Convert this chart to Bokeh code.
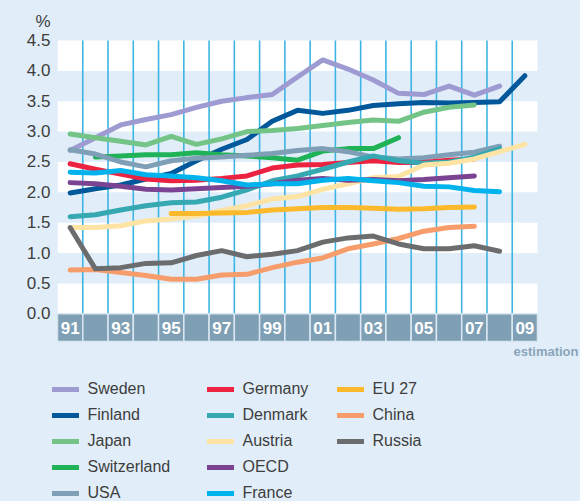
from bokeh.plotting import figure
from bokeh.layouts import column
from bokeh.models import Range1d, FixedTicker, PrintfTickFormatter, Legend, LegendItem, Label
from bokeh.core.properties import value
from bokeh.embed import file_html
from bokeh.resources import INLINE

# ---------------- data ----------------
years = list(range(1991, 2010))

sweden      = [2.69, 2.90, 3.11, 3.20, 3.28, 3.40, 3.50, 3.56, 3.61, 3.90, 4.18, 4.03, 3.85, 3.63, 3.61, 3.75, 3.60, 3.75, None]
finland     = [1.99, 2.06, 2.12, 2.22, 2.31, 2.52, 2.71, 2.87, 3.17, 3.35, 3.30, 3.35, 3.43, 3.46, 3.48, 3.47, 3.48, 3.49, 3.92]
japan       = [2.96, 2.90, 2.84, 2.78, 2.92, 2.79, 2.88, 3.00, 3.02, 3.05, 3.10, 3.15, 3.19, 3.17, 3.32, 3.40, 3.44, None, None]
switzerland = [None, 2.58, 2.60, 2.62, 2.62, 2.65, 2.62, 2.60, 2.57, 2.53, 2.68, 2.72, 2.72, 2.90, None, None, None, None, None]
usa         = [2.70, 2.63, 2.50, 2.42, 2.52, 2.56, 2.58, 2.61, 2.64, 2.69, 2.72, 2.67, 2.58, 2.55, 2.57, 2.62, 2.66, 2.76, None]
germany     = [2.47, 2.38, 2.30, 2.22, 2.19, 2.20, 2.23, 2.27, 2.40, 2.45, 2.46, 2.49, 2.52, 2.49, 2.49, 2.53, 2.55, None, None]
denmark     = [1.60, 1.63, 1.71, 1.78, 1.83, 1.84, 1.92, 2.04, 2.19, 2.27, 2.38, 2.50, 2.60, 2.52, 2.48, 2.50, 2.58, 2.72, None]
austria     = [1.42, 1.42, 1.45, 1.53, 1.56, 1.61, 1.70, 1.78, 1.89, 1.93, 2.05, 2.14, 2.24, 2.26, 2.45, 2.48, 2.55, 2.67, 2.79]
oecd        = [2.16, 2.14, 2.10, 2.05, 2.04, 2.06, 2.08, 2.10, 2.14, 2.20, 2.23, 2.20, 2.21, 2.19, 2.21, 2.24, 2.27, None, None]
france      = [2.33, 2.32, 2.36, 2.29, 2.27, 2.24, 2.19, 2.12, 2.14, 2.14, 2.20, 2.23, 2.19, 2.16, 2.10, 2.09, 2.03, 2.01, None]
eu27        = [None, None, None, None, 1.65, 1.65, 1.66, 1.67, 1.71, 1.73, 1.75, 1.75, 1.74, 1.72, 1.73, 1.75, 1.76, None, None]
china       = [0.72, 0.73, 0.68, 0.63, 0.57, 0.57, 0.64, 0.65, 0.76, 0.85, 0.92, 1.07, 1.15, 1.24, 1.36, 1.42, 1.44, None, None]
russia      = [1.42, 0.74, 0.76, 0.83, 0.84, 0.96, 1.04, 0.94, 0.98, 1.04, 1.18, 1.25, 1.28, 1.15, 1.07, 1.07, 1.12, 1.03, None]

series_names = ["Sweden", "Finland", "Japan", "Switzerland", "USA",
                "Germany", "Denmark", "Austria", "OECD", "France",
                "EU 27", "China", "Russia"]
series_values = [sweden, finland, japan, switzerland, usa,
                 germany, denmark, austria, oecd, france,
                 eu27, china, russia]
series_colors = ["#9d9bd1", "#00589b", "#74c487", "#20b257", "#7f9fb6",
                 "#ec2340", "#35a8b1", "#fde3a4", "#7a4493", "#00b3ec",
                 "#fcb92c", "#f79d6c", "#6b6c6e"]

y_ticks = [0.0, 0.5, 1.0, 1.5, 2.0, 2.5, 3.0, 3.5, 4.0, 4.5]
unit_label = "%"
unit_pos = 4.81
year_labels = ["%02d" % (y % 100) for y in years]
note_text = "estimation"

# ---------------- style ----------------
BG = "#e1eef9"
FONT = "Liberation Sans"
TXT = "#3d3d3d"
PX_PER_YEAR = 480 / 19.0
PX_PER_UNIT = 60.73
ZERO_PX = 313.3
TOP_H = 366

x_end = years[0] - 0.5 + (580 - 57) / PX_PER_YEAR
y_top = ZERO_PX / PX_PER_UNIT
y_bot = (ZERO_PX - TOP_H) / PX_PER_UNIT

p = figure(width=580, height=TOP_H, output_backend="svg", toolbar_location=None, tools="",
           x_range=Range1d(years[0] - 0.5, x_end), y_range=Range1d(y_bot, y_top),
           x_axis_location=None, y_axis_location="left",
           min_border_left=57, min_border_right=0, min_border_top=0, min_border_bottom=0,
           background_fill_color=BG, border_fill_color=BG, outline_line_color=None)
p.xgrid.visible = False
p.ygrid.visible = False
p.frame_align = False

# white horizontal bands
band_centers = [t + 0.25 for t in y_ticks[0::2]]
p.hbar(y=band_centers, height=0.5, left=years[0] - 0.5, right=years[-1] + 0.5,
       fill_color="white", line_color=None)

# vertical cyan separators
bounds = [y + 0.5 for y in years[:-1]]
p.segment(x0=bounds, y0=y_ticks[0], x1=bounds, y1=y_ticks[-1],
          line_color="#3db5e4", line_width=1.6)

# x-axis band with year cells
p.quad(left=[y - 0.5 for y in years], right=[y + 0.5 for y in years],
       top=0, bottom=-0.456, fill_color="#7f9fb5", line_color="#d9e7f2", line_width=1.5)
odd_years = years[0::2]
p.text(x=odd_years, y=[-0.228] * len(odd_years), text=year_labels[0::2],
       text_font=value(FONT), text_font_size="17px", text_font_style="bold",
       text_color="white", text_align="center", text_baseline="middle")

# data lines
for name, vals, col in zip(series_names, series_values, series_colors):
    ys = [float("nan") if v is None else v for v in vals]
    p.line(years, ys, line_color=col, line_width=5, line_cap="round", line_join="round")

# y axis
ax = p.yaxis[0]
ax.ticker = FixedTicker(ticks=y_ticks + [unit_pos])
ax.formatter = PrintfTickFormatter(format="%.1f")
ax.major_label_overrides = {unit_pos: unit_label}
ax.axis_line_color = None
ax.major_tick_line_color = None
ax.minor_tick_line_color = None
ax.major_tick_out = 0
ax.major_tick_in = 0
ax.major_label_standoff = 7
ax.major_label_text_font = FONT
ax.major_label_text_font_size = "17px"
ax.major_label_text_color = TXT

# "estimation" note
p.add_layout(Label(x=years[-1] + 0.5, y=(ZERO_PX - 351) / PX_PER_UNIT, x_offset=41, text=note_text,
                   text_align="right", text_baseline="middle", text_font=FONT,
                   text_font_size="13px", text_font_style="bold", text_color="#89a5bb"))

# ---------------- legend panel ----------------
LEG_H = 501 - TOP_H
q = figure(width=580, height=LEG_H, output_backend="svg", toolbar_location=None, tools="",
           x_range=Range1d(0, 580), y_range=Range1d(0, LEG_H),
           x_axis_location=None, y_axis_location=None,
           min_border_left=0, min_border_right=0, min_border_top=0, min_border_bottom=0,
           background_fill_color=BG, border_fill_color=BG, outline_line_color=None)
q.xgrid.visible = False
q.ygrid.visible = False
q.frame_align = False

nan = float("nan")
keys = []
for col in series_colors:
    keys.append(q.line(x=[nan, nan], y=[nan, nan], line_color=col, line_width=5, line_cap="round"))

col_groups = [(0, 5, (51.5, -2.3)), (5, 10, (206.5, -2.3)), (10, 13, (336.5, 49.7))]
for a, b, loc in col_groups:
    items = [LegendItem(label=series_names[i], renderers=[keys[i]]) for i in range(a, b)]
    lg = Legend(items=items, location=loc, orientation="vertical",
                glyph_width=27, glyph_height=20, label_height=20, label_standoff=9,
                spacing=6, padding=0, margin=0, border_line_color=None,
                background_fill_alpha=0, label_text_font=FONT,
                label_text_font_size="16px", label_text_color=TXT)
    q.add_layout(lg)

layout = column(p, q, spacing=0)
html = file_html(layout, INLINE)
html = html.replace("</head>", "<style>html,body{background:%s;}</style></head>" % BG, 1)
open("out.html", "w").write(html)
